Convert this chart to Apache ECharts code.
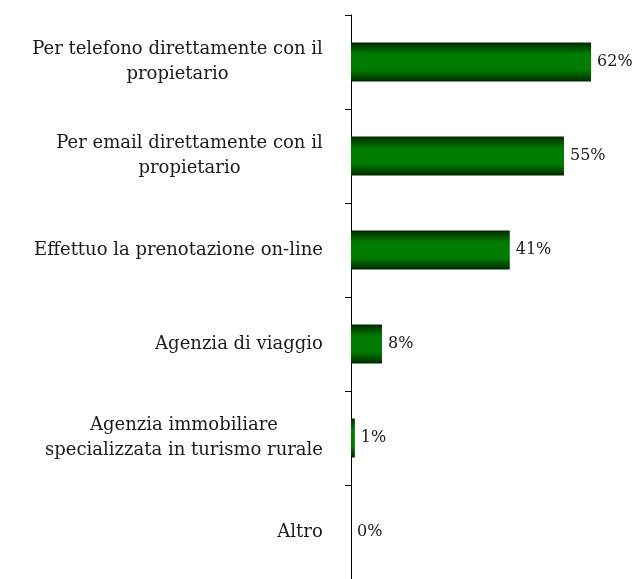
<!DOCTYPE html>
<html>
<head>
<meta charset="utf-8">
<script src="https://cdn.jsdelivr.net/npm/echarts@6/dist/echarts.min.js"></script>
<style>
  html, body { margin: 0; padding: 0; background: #fff; }
  #main { width: 636px; height: 579px; }
</style>
</head>
<body>
<div id="main"></div>
<script>
var categories = [
    'Per telefono direttamente con il\npropietario',
    'Per email direttamente con il\npropietario',
    'Effettuo la prenotazione on-line',
    'Agenzia di viaggio',
    'Agenzia immobiliare\nspecializzata in turismo rurale',
    'Altro'
];
var values = [62, 55, 41, 8, 1, 0];

var labelFont = '18px "DejaVu Serif"';

// centra le righe di ogni etichetta dentro il suo blocco (allineato a destra)
var ctx = document.createElement('canvas').getContext('2d');
ctx.font = labelFont;
var rich = {};
for (var i = 0; i < categories.length; i++) {
    var lines = categories[i].split('\n');
    var w = 0;
    for (var j = 0; j < lines.length; j++) {
        w = Math.max(w, ctx.measureText(lines[j]).width);
    }
    rich['c' + i] = {
        width: Math.ceil(w),
        align: 'center',
        fontFamily: 'DejaVu Serif',
        fontSize: 18,
        lineHeight: 25,
        color: '#1a1a1a'
    };
}

var myChart = echarts.init(document.getElementById('main'));

myChart.setOption({
    animation: false,
    grid: {
        left: 351,
        top: 15,
        bottom: 0,
        right: 0
    },
    xAxis: {
        type: 'value',
        min: 0,
        max: 73.6,
        show: false
    },
    yAxis: {
        type: 'category',
        inverse: true,
        data: categories,
        axisLine: {lineStyle: {color: '#000', width: 1}},
        axisTick: {show: true, length: 6, lineStyle: {color: '#000'}},
        axisLabel: {
            margin: 28,
            formatter: function (value, idx) {
                var lines = value.split('\n');
                var out = [];
                for (var k = 0; k < lines.length; k++) {
                    out.push('{c' + idx + '|' + lines[k] + '}');
                }
                return out.join('\n');
            },
            rich: rich
        }
    },
    series: [
        {
            type: 'bar',
            data: values,
            barWidth: 39,
            itemStyle: {
                color: new echarts.graphic.LinearGradient(0, 0, 0, 1, [
                    {offset: 0, color: '#002800'},
                    {offset: 0.3, color: '#007d00'},
                    {offset: 0.7, color: '#007d00'},
                    {offset: 1, color: '#002800'}
                ])
            },
            label: {
                show: true,
                position: 'right',
                distance: 6,
                formatter: '{c}%',
                fontFamily: 'DejaVu Serif',
                fontSize: 16,
                color: '#1a1a1a'
            }
        }
    ]
});
</script>
</body>
</html>
